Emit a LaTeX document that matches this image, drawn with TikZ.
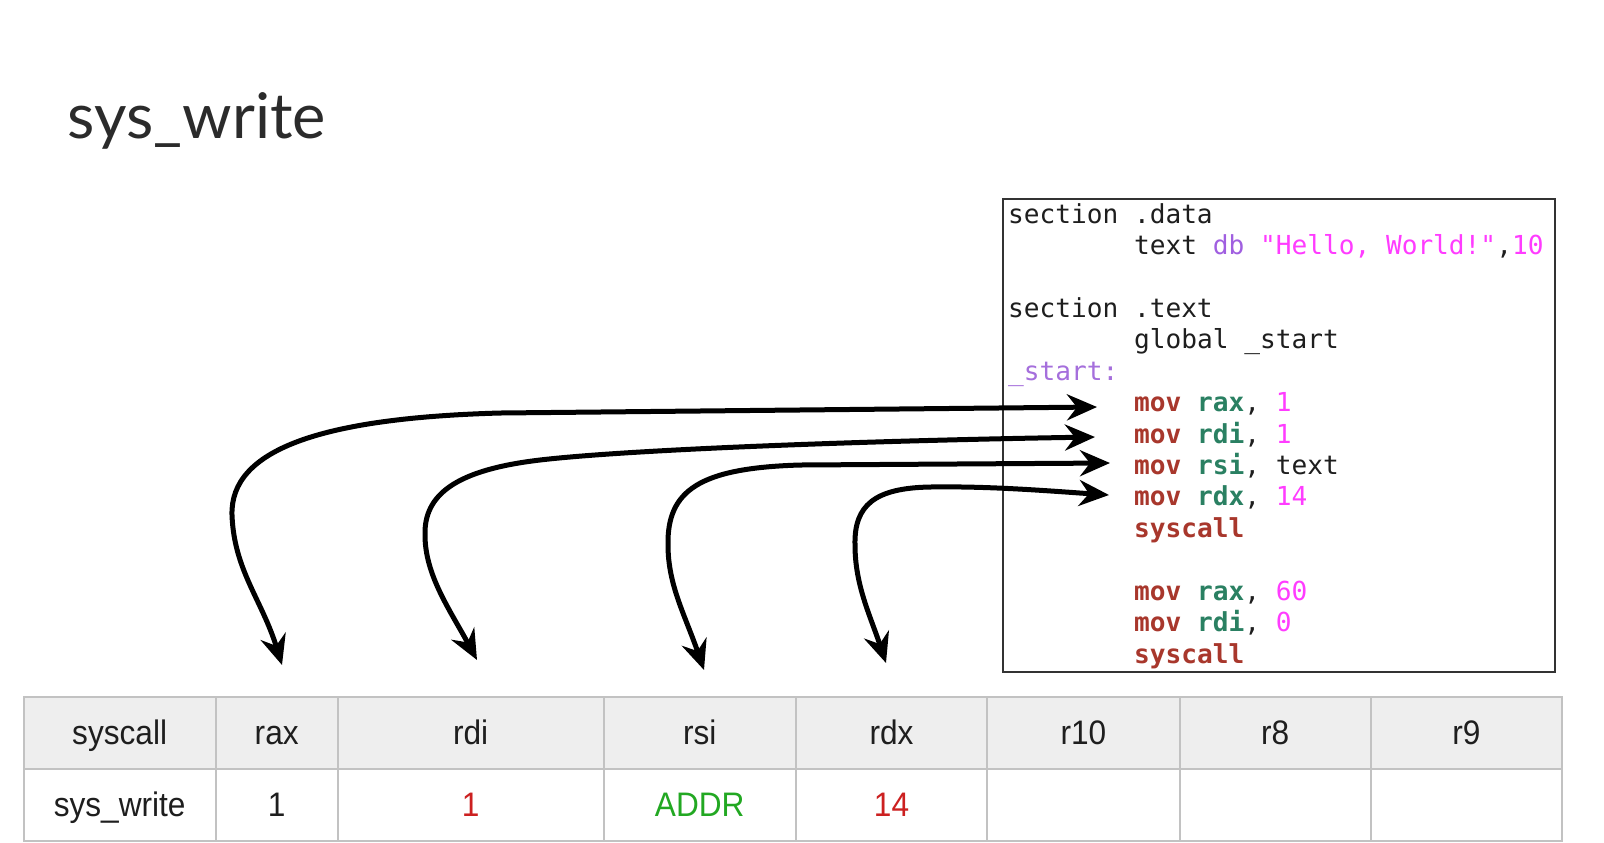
\documentclass[tikz,border=0pt]{standalone}
\usepackage{fontspec}
\usepackage{xcolor}
\usetikzlibrary{arrows.meta}
\newfontfamily\titlefont{Lato}
\newfontfamily\tabfont{Liberation Sans}[FakeStretch=0.93]
\newfontfamily\codefont{DejaVu Sans Mono}
\definecolor{titlec}{HTML}{2B2B2B}
\definecolor{plainc}{HTML}{1E1E1E}
\definecolor{kwc}{HTML}{A8372C}
\definecolor{regc}{HTML}{2A8062}
\definecolor{numc}{HTML}{FF3CFF}
\definecolor{typc}{HTML}{A05FE0}
\definecolor{labc}{HTML}{A56FDC}
\definecolor{gridc}{HTML}{C2C2C2}
\definecolor{headc}{HTML}{EEEEEE}
\definecolor{redc}{HTML}{CC2020}
\definecolor{greenc}{HTML}{22A822}
\definecolor{boxc}{HTML}{333333}
\newcommand\ckw[1]{{\bfseries\color{kwc}#1}}
\newcommand\creg[1]{{\bfseries\color{regc}#1}}
\newcommand\cnum[1]{{\color{numc}#1}}
\newcommand\cty[1]{{\color{typc}#1}}
\newcommand\clab[1]{{\color{labc}#1}}
\begin{document}
\begin{tikzpicture}[x=0.5pt,y=-0.5pt,
  codeline/.style={anchor=base west, inner sep=0, text=plainc,
    font=\codefont\fontsize{13.08pt}{15.7pt}\selectfont},
  codebox/.style={draw=boxc, line width=1pt, inner sep=0},
  cellh/.style={draw=gridc, line width=1pt, fill=headc, inner sep=0,
    minimum height=36pt, text height=12.5pt, text depth=1pt, text=plainc,
    font=\tabfont\fontsize{17pt}{18pt}\selectfont},
  cellv/.style={cellh, fill=white},
  conn/.style={line width=2.5pt, draw=black,
    {Stealth[length=15pt,width=13pt,inset=5pt]}-{Stealth[length=15pt,width=13pt,inset=5pt]}}]
\fill[white] (0,0) rectangle (1604,842);
\useasboundingbox (0,0) rectangle (1604,842);

% title
\node[anchor=base west, inner sep=0, text=titlec,
  font=\titlefont\fontsize{31.5pt}{33pt}\selectfont] (title) at (67.5,138) {sys\_write};

% code box
\node[codebox, minimum width=276.25pt, minimum height=236.75pt] (box) at (1278.75,435.25) {};
\node[codeline] (c0) at (1007.6,223.0) {section .data};
\node[codeline] (c1) at (1133.6,254.4) {text \cty{db} \cnum{"Hello, World!"},\cnum{10}};
\node[codeline] (c3) at (1007.6,317.3) {section .text};
\node[codeline] (c4) at (1133.6,348.7) {global \_start};
\node[codeline] (c5) at (1007.6,380.2) {\clab{\_start:}};
\node[codeline] (c6) at (1133.6,411.6) {\ckw{mov} \creg{rax}, \cnum{1}};
\node[codeline] (c7) at (1133.6,443.1) {\ckw{mov} \creg{rdi}, \cnum{1}};
\node[codeline] (c8) at (1133.6,474.5) {\ckw{mov} \creg{rsi}, text};
\node[codeline] (c9) at (1133.6,505.9) {\ckw{mov} \creg{rdx}, \cnum{14}};
\node[codeline] (c10) at (1133.6,537.3) {\ckw{syscall}};
\node[codeline] (c12) at (1133.6,600.2) {\ckw{mov} \creg{rax}, \cnum{60}};
\node[codeline] (c13) at (1133.6,631.6) {\ckw{mov} \creg{rdi}, \cnum{0}};
\node[codeline] (c14) at (1133.6,663.0) {\ckw{syscall}};

% table
\node[cellh, minimum width=96.15pt] (h1) at (119.65,733) {syscall};
\node[cellh, minimum width=60.9pt]  (h2) at (276.7,733) {rax};
\node[cellh, minimum width=133pt]   (h3) at (470.6,733) {rdi};
\node[cellh, minimum width=96.15pt] (h4) at (699.75,733) {rsi};
\node[cellh, minimum width=95.65pt] (h5) at (891.55,733) {rdx};
\node[cellh, minimum width=96.15pt] (h6) at (1083.35,733) {r10};
\node[cellh, minimum width=95.65pt] (h7) at (1275.15,733) {r8};
\node[cellh, minimum width=95.6pt]  (h8) at (1466.4,733) {r9};
\node[cellv, minimum width=96.15pt] (v1) at (119.65,805) {sys\_write};
\node[cellv, minimum width=60.9pt]  (v2) at (276.7,805) {1};
\node[cellv, minimum width=133pt, text=redc]   (v3) at (470.6,805) {1};
\node[cellv, minimum width=96.15pt, text=greenc] (v4) at (699.75,805) {ADDR};
\node[cellv, minimum width=95.65pt, text=redc] (v5) at (891.55,805) {14};
\node[cellv, minimum width=96.15pt] (v6) at (1083.35,805) {};
\node[cellv, minimum width=95.65pt] (v7) at (1275.15,805) {};
\node[cellv, minimum width=95.6pt]  (v8) at (1466.4,805) {};

% connector ends
\coordinate (tRax) at (282,665);
\coordinate (mRax) at (1097,407);
\coordinate (tRdi) at (477,660);
\coordinate (mRdi) at (1095,437);
\coordinate (tRsi) at (704,670);
\coordinate (mRsi) at (1110,463);
\coordinate (tRdx) at (886,663);
\coordinate (mRdx) at (1109,495);

\draw[conn] (tRax) .. controls (262,600) and (234,570) .. (232,515)
  .. controls (230,450) and (320,418) .. (500,413) -- (mRax);
\draw[conn] (tRdi) .. controls (450,610) and (425,575) .. (425,535)
  .. controls (424,495) and (455,470) .. (540,460)
  .. controls (625,450) and (850,441) .. (mRdi);
\draw[conn] (tRsi) .. controls (685,615) and (668,585) .. (668,545)
  .. controls (667,490) and (700,468) .. (800,465) -- (mRsi);
\draw[conn] (tRdx) .. controls (870,615) and (855,585) .. (855,545)
  .. controls (854,505) and (875,488) .. (930,487)
  .. controls (990,486) and (1050,491) .. (mRdx);
\end{tikzpicture}
\end{document}
